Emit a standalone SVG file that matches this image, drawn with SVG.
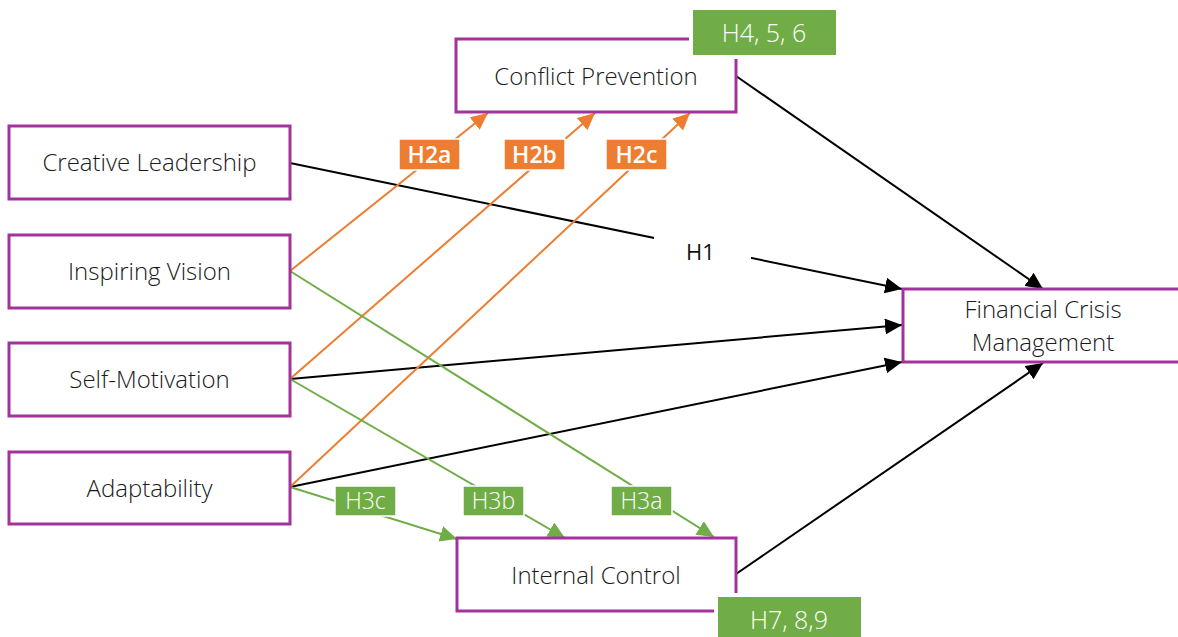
<svg xmlns="http://www.w3.org/2000/svg" width="1178" height="637" viewBox="0 0 1178 637">
<style>
.node rect.box{fill:#fff;stroke:#A4329C;stroke-width:3}
.t{font-family:"Open Sans","Noto Sans",sans-serif;font-size:24px;font-weight:300;fill:#1a1a1a;text-anchor:middle}
.lt{font-family:"Open Sans","Noto Sans",sans-serif;font-size:23px;font-weight:300;fill:#fff;text-anchor:middle}
.big{font-size:25px}
.lb{font-weight:600}
.og{fill:#ED7D31;stroke:#fff;stroke-width:1.5}
.gr{fill:#70AD47;stroke:#fff;stroke-width:1.5}
.grb{fill:#70AD47;stroke:#fff;stroke-width:4}
.k{stroke:#000;stroke-width:2;fill:none}
.o{stroke:#ED7D31;stroke-width:2;fill:none}
.g{stroke:#70AD47;stroke-width:2;fill:none}
</style>
<defs>
<marker id="ak" markerUnits="userSpaceOnUse" markerWidth="18" markerHeight="16" refX="17" refY="8" orient="auto"><path d="M0,0 L17,8 L0,16 z" fill="#000"/></marker>
<marker id="ao" markerUnits="userSpaceOnUse" markerWidth="18" markerHeight="16" refX="17" refY="8" orient="auto"><path d="M0,0 L17,8 L0,16 z" fill="#ED7D31"/></marker>
<marker id="ag" markerUnits="userSpaceOnUse" markerWidth="18" markerHeight="16" refX="17" refY="8" orient="auto"><path d="M0,0 L17,8 L0,16 z" fill="#70AD47"/></marker>
</defs>
<rect width="1178" height="637" fill="#fff"/>

<g id="connectors">
<line class="k" x1="290" y1="163" x2="902" y2="289" stroke-width="1.5" marker-end="url(#ak)"/>
<rect x="654" y="232" width="97" height="34" fill="#fff"/>
<line class="k" x1="290" y1="379" x2="902" y2="325" marker-end="url(#ak)"/>
<line class="k" x1="290" y1="487" x2="902" y2="362" marker-end="url(#ak)"/>
<line class="k" x1="736" y1="76" x2="1043" y2="289" marker-end="url(#ak)"/>
<line class="k" x1="736" y1="574" x2="1043" y2="363" marker-end="url(#ak)"/>
<line class="o" x1="290" y1="271" x2="488" y2="113" marker-end="url(#ao)"/>
<line class="o" x1="290" y1="379" x2="595" y2="113" marker-end="url(#ao)"/>
<line class="o" x1="290" y1="487" x2="690" y2="113" marker-end="url(#ao)"/>
<line class="g" x1="290" y1="271" x2="714" y2="537" marker-end="url(#ag)"/>
<line class="g" x1="290" y1="379" x2="565" y2="538" marker-end="url(#ag)"/>
<line class="g" x1="290" y1="487" x2="457" y2="539" marker-end="url(#ag)"/>
</g>

<g id="n-creative" class="node"><rect class="box" x="9" y="126" width="281" height="73"/><text class="t" x="149.5" y="171">Creative Leadership</text></g>
<g id="n-vision" class="node"><rect class="box" x="9" y="235" width="281" height="73"/><text class="t" x="149.5" y="280">Inspiring Vision</text></g>
<g id="n-selfmot" class="node"><rect class="box" x="9" y="343" width="281" height="73"/><text class="t" x="149.5" y="388">Self-Motivation</text></g>
<g id="n-adapt" class="node"><rect class="box" x="9" y="452" width="281" height="72"/><text class="t" x="149.5" y="497">Adaptability</text></g>
<g id="n-conflict" class="node"><rect class="box" x="456" y="39" width="280" height="73"/><text class="t" x="596" y="85">Conflict Prevention</text></g>
<g id="n-internal" class="node"><rect class="box" x="457" y="538" width="279" height="73"/><text class="t" x="596" y="584">Internal Control</text></g>
<g id="n-fcm" class="node"><rect class="box" x="903" y="289" width="290" height="73"/><text class="t" x="1043" y="318">Financial Crisis</text><text class="t" x="1043" y="351">Management</text></g>

<g id="l-h1"><text x="686" y="260" font-family="Open Sans, Noto Sans, sans-serif" font-size="22" font-weight="500" fill="#111">H1</text></g>
<g id="l-h456"><rect class="grb" x="691" y="8" width="147" height="49"/><text class="lt big" x="764" y="42">H4, 5, 6</text></g>
<g id="l-h789"><rect class="grb" x="716" y="595" width="147" height="46"/><text class="lt big" x="789" y="629">H7, 8,9</text></g>
<g id="l-h2a"><rect class="og" x="399" y="139" width="61" height="31"/><text class="lt lb" x="429.5" y="163">H2a</text></g>
<g id="l-h2b"><rect class="og" x="504" y="139" width="61" height="31"/><text class="lt lb" x="534.5" y="163">H2b</text></g>
<g id="l-h2c"><rect class="og" x="606" y="139" width="61" height="31"/><text class="lt lb" x="636.5" y="163">H2c</text></g>
<g id="l-h3c"><rect class="gr" x="335" y="486" width="61" height="30"/><text class="lt" x="365.5" y="509">H3c</text></g>
<g id="l-h3b"><rect class="gr" x="463" y="486" width="61" height="30"/><text class="lt" x="493.5" y="509">H3b</text></g>
<g id="l-h3a"><rect class="gr" x="611" y="486" width="61" height="30"/><text class="lt" x="641.5" y="509">H3a</text></g>
</svg>
